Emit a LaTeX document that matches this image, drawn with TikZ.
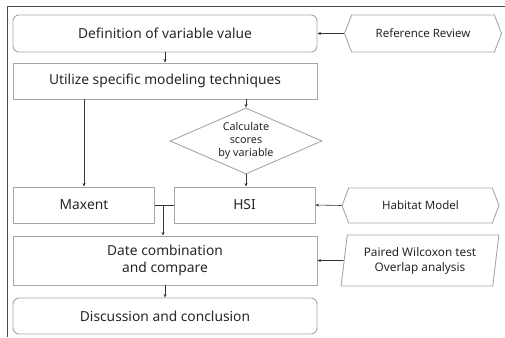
\documentclass[tikz,border=0pt]{standalone}
\usepackage{fontspec}
\setmainfont{Noto Sans}
\usepackage{tikz}
\usetikzlibrary{arrows.meta}
\usetikzlibrary{shapes.geometric}
\usetikzlibrary{shapes.symbols}

\definecolor{boxline}{HTML}{A6A6A6}
\definecolor{wireline}{HTML}{333333}
\definecolor{frameline}{HTML}{4A4A4A}

\tikzset{
    stagebox/.style = {rectangle, draw=boxline, line width=0.9pt,
        text=black!85, font=\fontsize{13.8}{17}\selectfont,
        minimum width=304pt, inner sep=0pt, align=center},
    halfbox/.style = {rectangle, draw=boxline, line width=0.9pt,
        text=black!85, font=\fontsize{13.8}{17}\selectfont,
        minimum width=141pt, minimum height=36pt, inner sep=0pt},
    sourcebox/.style = {signal, signal to=west and east,
        signal pointer angle=138, draw=boxline, line width=0.9pt,
        text=black!85, font=\fontsize{11.5}{14}\selectfont,
        minimum width=157pt, inner sep=0pt},
    flow/.style = {draw=wireline, line width=0.6pt,
        -{Stealth[length=3.5pt,width=3pt]}},
    wire/.style = {draw=wireline, line width=0.6pt}
}

\begin{document}
\begin{tikzpicture}[x=1pt, y=-1pt]
    \useasboundingbox (0,0) rectangle (505,337);
    \draw[frameline, line width=1pt] (7,337) -- (7,7) -- (505,7);

    % main column
    \node[stagebox, rounded corners=6pt, minimum height=37pt] (def) at (165,33.5) {Definition of variable value};
    \node[stagebox, minimum height=36pt] (util) at (165,81) {Utilize specific modeling techniques};
    \node[diamond, draw=boxline, line width=0.9pt,
    text=black!85,
    font=\fontsize{10.8}{13}\selectfont,
    align=center,
    aspect=2.3,
    inner sep=0pt,
    minimum width=152pt,
    minimum height=66pt] (calc) at (246,141) {Calculate\\scores\\by variable};
    \node[halfbox] (maxent) at (84,205) {Maxent};
    \node[halfbox] (hsi) at (244.5,205) {HSI};
    \node[stagebox, minimum height=49pt] (date) at (165,260.5) {Date combination\\and compare};
    \node[stagebox, rounded corners=6pt, minimum height=36pt] (disc) at (165,316) {Discussion and conclusion};

    % side inputs
    \node[sourcebox, minimum height=37pt] (refrev) at (423,33.5) {Reference Review};
    \node[sourcebox, minimum height=35pt] (habmod) at (420.5,205.5) {Habitat Model};
    \node[trapezium, trapezium left angle=80, trapezium right angle=100,
    trapezium stretches=true,
    draw=boxline, line width=0.9pt,
    text=black!85,
    font=\fontsize{11.8}{15}\selectfont,
    align=center,
    inner sep=0pt,
    minimum width=158pt,
    minimum height=51pt] (paired) at (420,260.5) {Paired Wilcoxon test\\Overlap analysis};

    % connectors
    \draw[flow] (def.south) -- (util.north);
    \draw[flow] (refrev.west) -- (def.east);
    \draw[flow] (util.south -| maxent.north) -- (maxent.north);
    \draw[flow] (util.south -| calc.north) -- (calc.north);
    \draw[flow] (calc.south) -- (calc.south |- hsi.north);
    \draw[wire] (maxent.east) -- (hsi.west);
    \coordinate (join) at (163,205);
    \draw[flow] (join) -- (join |- date.north);
    \draw[flow] (habmod.west) -- (hsi.east);
    \draw[flow] (paired.west) -- (date.east);
    \draw[flow] (date.south) -- (disc.north);
\end{tikzpicture}
\end{document}
